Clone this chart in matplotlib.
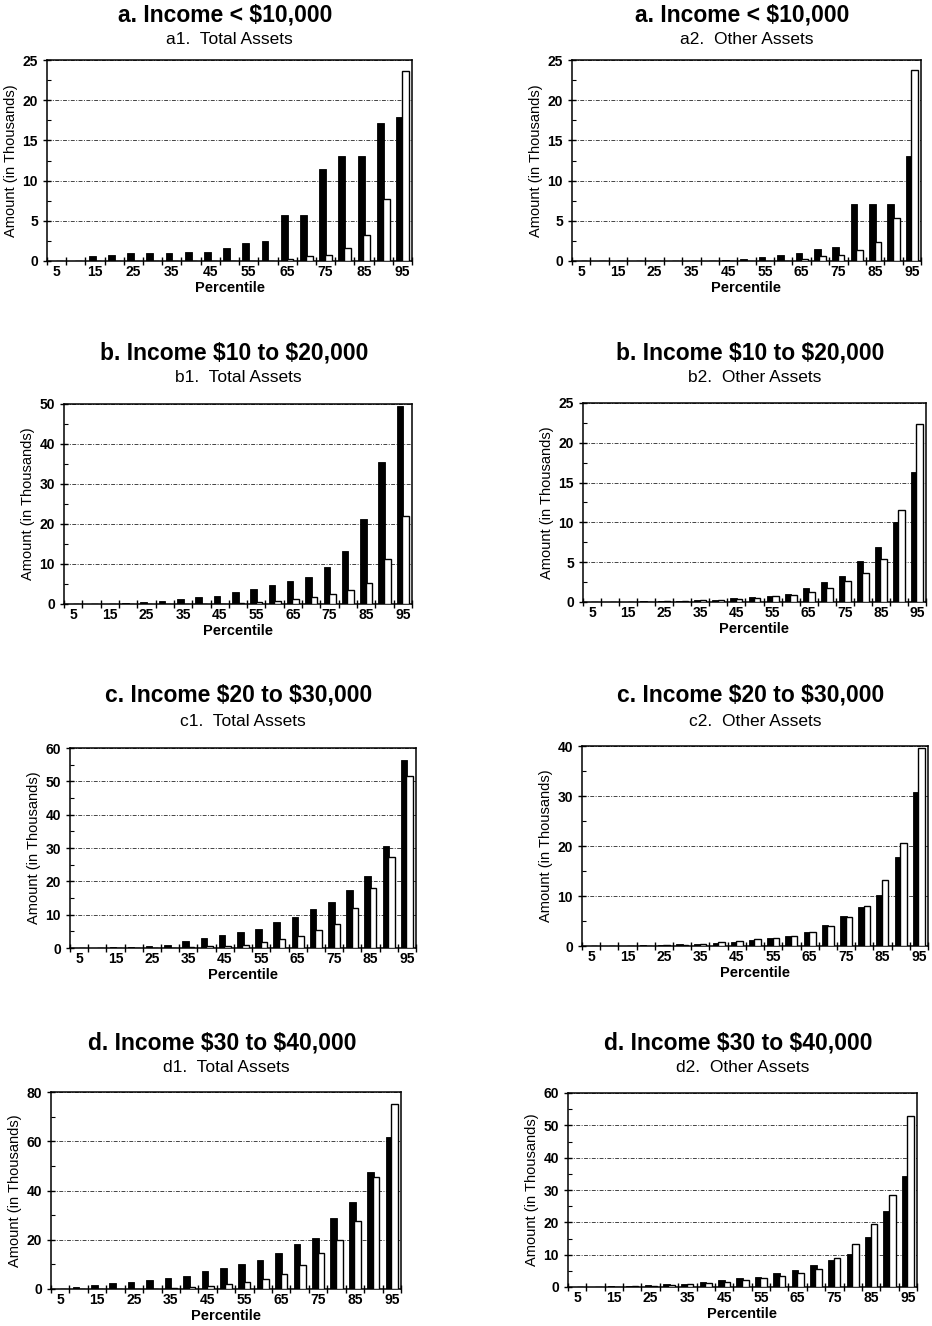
import numpy as np
import matplotlib.pyplot as plt
from matplotlib.ticker import MultipleLocator

plt.rcParams['font.family'] = ['Liberation Sans', 'DejaVu Sans']

pct = [5, 10, 15, 20, 25, 30, 35, 40, 45, 50, 55, 60, 65, 70, 75, 80, 85, 90, 95]

# amounts in thousands, black and white series per panel
a1_black = [0, 0, 0.6, 0.75, 0.95, 1.05, 1.05, 1.1, 1.15, 1.6, 2.2, 2.5, 5.7, 5.7, 11.4, 13.0, 13.0, 17.2, 17.9]
a1_white = [0, 0, 0, 0, 0, 0, 0, 0, 0, 0, 0, 0, 0.3, 0.6, 0.7, 1.6, 3.2, 7.7, 23.6]
a2_black = [0, 0, 0, 0, 0, 0, 0, 0, 0.1, 0.3, 0.5, 0.7, 0.95, 1.5, 1.8, 7.1, 7.1, 7.1, 13.1]
a2_white = [0, 0, 0, 0, 0, 0, 0, 0, 0, 0, 0, 0, 0.3, 0.6, 0.7, 1.4, 2.4, 5.4, 23.8]
b1_black = [0, 0, 0.1, 0.3, 0.4, 0.8, 1.2, 1.7, 2.0, 3.0, 3.7, 4.7, 5.7, 6.8, 9.3, 13.2, 21.2, 35.6, 49.5]
b1_white = [0, 0, 0, 0, 0, 0, 0, 0, 0.1, 0.2, 0.4, 0.8, 1.25, 1.7, 2.4, 3.5, 5.3, 11.3, 22.0]
b2_black = [0, 0.05, 0.05, 0.1, 0.1, 0.15, 0.2, 0.3, 0.5, 0.6, 0.75, 1.0, 1.7, 2.5, 3.3, 5.2, 6.9, 10.0, 16.3]
b2_white = [0, 0, 0, 0.05, 0.1, 0.1, 0.2, 0.25, 0.4, 0.5, 0.7, 0.9, 1.25, 1.8, 2.6, 3.6, 5.4, 11.5, 22.3]
c1_black = [0, 0.1, 0.2, 0.4, 0.6, 1.0, 2.0, 3.0, 4.0, 4.7, 5.6, 7.7, 9.3, 11.7, 13.9, 17.4, 21.5, 30.6, 56.5]
c1_white = [0, 0, 0, 0, 0, 0.1, 0.3, 0.5, 0.6, 1.0, 1.7, 2.6, 3.6, 5.3, 7.2, 12.1, 17.9, 27.4, 51.5]
c2_black = [0, 0.05, 0.1, 0.15, 0.2, 0.4, 0.5, 0.7, 0.9, 1.3, 1.7, 2.0, 2.9, 4.3, 6.1, 7.9, 10.2, 17.8, 30.8]
c2_white = [0, 0, 0, 0.1, 0.2, 0.3, 0.5, 0.8, 1.1, 1.4, 1.7, 2.1, 2.9, 4.1, 5.9, 8.1, 13.3, 20.7, 39.7]
d1_black = [0.1, 0.8, 1.5, 2.6, 3.0, 3.6, 4.6, 5.3, 7.3, 8.5, 10.1, 11.8, 14.7, 18.1, 20.7, 28.7, 35.2, 47.6, 61.6]
d1_white = [0, 0, 0, 0, 0, 0.2, 0.3, 0.8, 1.4, 2.2, 3.0, 3.9, 5.9, 9.7, 14.7, 19.9, 27.7, 45.3, 75.3]
d2_black = [0, 0.1, 0.3, 0.3, 0.5, 0.8, 0.9, 1.6, 2.2, 2.8, 3.2, 4.2, 5.2, 6.9, 8.4, 10.3, 15.6, 23.4, 34.2]
d2_white = [0, 0, 0.1, 0.2, 0.4, 0.5, 0.8, 1.3, 1.6, 2.1, 2.8, 3.4, 4.2, 5.7, 9.1, 13.2, 19.5, 28.4, 53.0]

row_titles = [r"a. Income < \$10,000", r"b. Income \$10 to \$20,000",
              r"c. Income \$20 to \$30,000", r"d. Income \$30 to \$40,000"]
sub_titles = [["a1.  Total Assets", "a2.  Other Assets"],
              ["b1.  Total Assets", "b2.  Other Assets"],
              ["c1.  Total Assets", "c2.  Other Assets"],
              ["d1.  Total Assets", "d2.  Other Assets"]]
series = [[(a1_black, a1_white), (a2_black, a2_white)],
          [(b1_black, b1_white), (b2_black, b2_white)],
          [(c1_black, c1_white), (c2_black, c2_white)],
          [(d1_black, d1_white), (d2_black, d2_white)]]
y_max = [[25, 25], [50, 25], [60, 40], [80, 60]]
y_step = [[5, 5], [10, 5], [10, 10], [20, 10]]

W, H = 932, 1326
# axes boxes in pixels: left, top, right, bottom
boxes = [[(47, 60, 412, 261), (572, 60, 921, 261)],
         [(64, 404, 412, 604), (583, 403, 926, 602)],
         [(70, 748, 416, 948), (582, 746, 928, 946)],
         [(51, 1092, 401, 1289), (568, 1093, 917, 1287)]]
title_y = [15, 353, 695, 1043]
sub_y = [40, 378, 722, 1068]

fig = plt.figure(figsize=(W / 100, H / 100), dpi=100)
x = np.arange(len(pct))
bw = 0.36

for r in range(4):
    for c in range(2):
        l, t, rr, b = boxes[r][c]
        ax = fig.add_axes([l / W, 1 - b / H, (rr - l) / W, (b - t) / H])
        blk, wht = series[r][c]
        ax.bar(x - 0.15, blk, bw, color='black', edgecolor='black', linewidth=0.6, zorder=3)
        ax.bar(x + 0.15, wht, bw, color='white', edgecolor='black', linewidth=1.0, zorder=4)

        ax.set_xlim(-0.5, len(pct) - 0.5)
        ax.set_ylim(0, y_max[r][c])
        # tick marks sit between categories, labels on every other one
        ax.set_xticks(np.arange(-0.5, len(pct), 1))
        ax.set_xticklabels([])
        ax.set_xticks(x[::2], minor=True)
        ax.set_xticklabels([str(p) for p in pct[::2]], minor=True, fontsize=10, fontweight='bold')
        ax.tick_params(axis='x', which='major', direction='inout', length=6, width=1)
        ax.tick_params(axis='x', which='minor', length=0, pad=3)

        ax.yaxis.set_major_locator(MultipleLocator(y_step[r][c]))
        ax.yaxis.set_minor_locator(MultipleLocator(y_step[r][c] / 2))
        ax.tick_params(axis='y', which='major', direction='inout', length=6, width=1, labelsize=10)
        ax.tick_params(axis='y', which='minor', direction='in', length=3, width=0.8)
        for lab in ax.get_yticklabels():
            lab.set_fontweight('bold')

        ax.grid(axis='y', linestyle=(0, (4, 1.5, 1, 1.5)), color='#444444', linewidth=0.7, zorder=1)
        for s in ax.spines.values():
            s.set_linewidth(1.1)

        ax.set_ylabel("Amount (in Thousands)", fontsize=10.5, labelpad=3)
        ax.set_xlabel("Percentile", fontsize=10.5, fontweight='bold', labelpad=1)

        cx = (l + rr) / 2 / W
        fig.text(cx - 4 / W, 1 - title_y[r] / H, row_titles[r], ha='center', va='center',
                 fontsize=16.5, fontweight='bold')
        fig.text(cx, 1 - sub_y[r] / H, sub_titles[r][c], ha='center', va='center',
                 fontsize=12.5)

fig.savefig("out.png", dpi=100)
